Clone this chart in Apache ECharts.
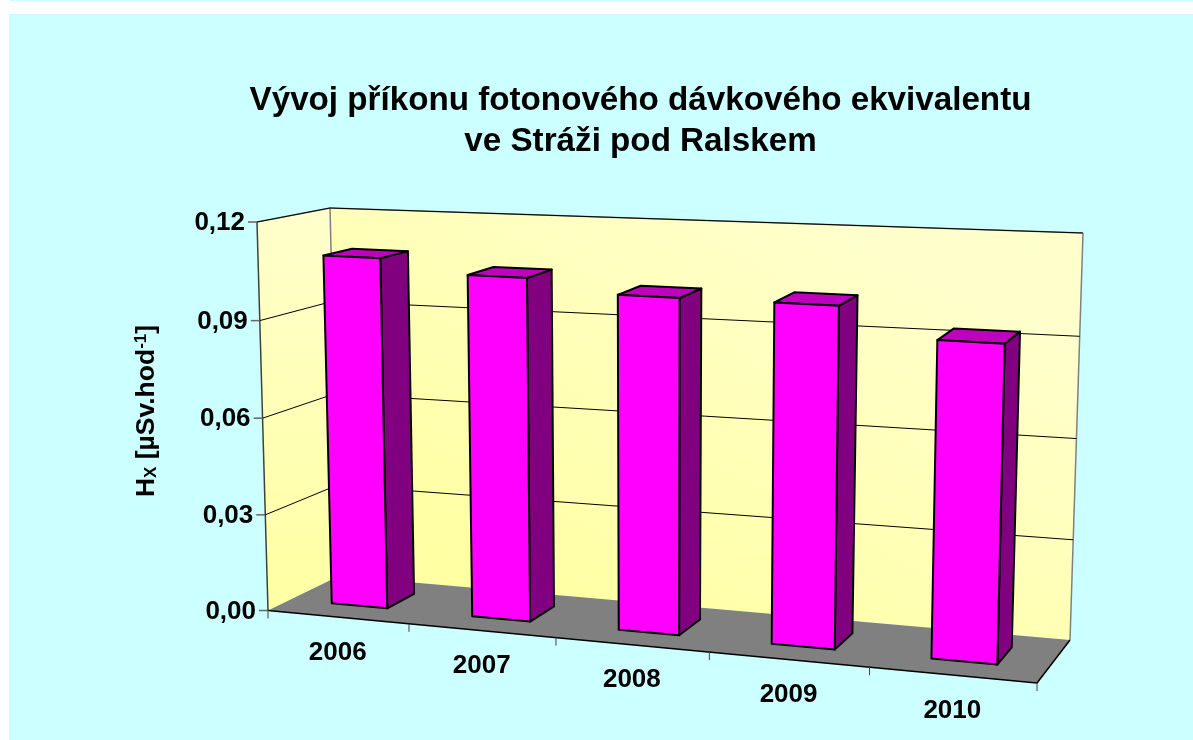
<!DOCTYPE html>
<html>
<head>
<meta charset="utf-8">
<title>Hx</title>
<script src="https://cdn.jsdelivr.net/npm/echarts@6/dist/echarts.min.js"></script>
<style>
html, body { margin: 0; padding: 0; background: #fff; }
#chart { width: 1193px; height: 740px; }
</style>
</head>
<body>
<div id="chart"></div>
<script>
var years = ['2006', '2007', '2008', '2009', '2010'];
var doseValues = [0.1089, 0.1051, 0.1014, 0.1015, 0.0931];
var yTickValues = [0, 0.03, 0.06, 0.09, 0.12];
var yTickLabels = ['0,00', '0,03', '0,06', '0,09', '0,12'];

var FontName = '"Liberation Sans", Arial, sans-serif';

// corners of the 3D box as drawn: f = front, b = back, l/r = left/right, 0/1 = floor/top
var box = {
	fl0: [268, 610.5], fr0: [1037, 683], bl0: [339, 576], br0: [1070, 640],
	fl1: [257, 222], fr1: [1047, 260], bl1: [330, 208], br1: [1083, 233]
};
var xWarp = 0.898;      // the category axis is foreshortened to the left
var yWarp = 0.98;       // and the value axis a little towards the bottom
// depth of the bars inside the box
var barFront = 0.32;
var barBack = 0.725;

function warp(k, a) {
	return k * a / (1 + (k - 1) * a);
}
function mix(a, b, k) {
	return [a[0] + (b[0] - a[0]) * k, a[1] + (b[1] - a[1]) * k];
}
// u across the categories, w into the depth, v up the value axis, all 0..1
function project(u, w, v) {
	var t = warp(xWarp, u);
	var floor = mix(mix(box.fl0, box.fr0, t), mix(box.bl0, box.br0, t), w);
	var top = mix(mix(box.fl1, box.fr1, t), mix(box.bl1, box.br1, t), w);
	return mix(floor, top, warp(yWarp, v));
}
// goes through the real scales of the hidden cartesian grid
function toUnit(params, api, x, y) {
	var pt = api.coord([x, y]);
	var rect = params.coordSys;
	return [(pt[0] - rect.x) / rect.width, (rect.y + rect.height - pt[1]) / rect.height];
}
function face(points, fill, stroke, lineWidth) {
	return {
		type: 'polygon',
		shape: { points: points },
		style: { fill: fill, stroke: stroke, lineWidth: lineWidth, lineJoin: 'round' }
	};
}
function segment(a, b, color, lineWidth) {
	return {
		type: 'line',
		shape: { x1: a[0], y1: a[1], x2: b[0], y2: b[1] },
		style: { stroke: color, lineWidth: lineWidth }
	};
}
function label(text, x, y, align) {
	return {
		type: 'text',
		style: {
			text: text, x: x, y: y, align: align, verticalAlign: 'middle',
			fontFamily: FontName, fontWeight: 'bold', fontSize: 26, fill: '#000'
		}
	};
}

function renderWalls(params, api) {
	var leftFill = new echarts.graphic.LinearGradient(0.6, 0, 0.4, 1, [
		{ offset: 0, color: '#FFFFCC' }, { offset: 1, color: '#FFFFA3' }
	]);
	var backFill = new echarts.graphic.LinearGradient(0.65, 0, 0.35, 1, [
		{ offset: 0, color: '#FFFFCC' }, { offset: 1, color: '#FFFFA3' }
	]);
	return {
		type: 'group',
		children: [
			face([box.fl0, box.fl1, box.bl1, box.bl0], leftFill),
			face([box.bl0, box.bl1, box.br1, box.br0], backFill),
			face([box.fl0, box.bl0, box.br0, box.fr0], '#808080'),
			segment(box.fl1, box.bl1, '#808080', 1.5),
			segment(box.bl1, box.br1, '#808080', 1.5),
			segment(box.br1, box.br0, '#808080', 1.5),
			segment(box.bl1, box.bl0, '#808080', 1.5),
			segment(box.fl0, box.fl1, '#404040', 1.5),
			segment(box.fl0, box.fr0, '#000', 1.5),
			segment(box.fr0, box.br0, '#000', 1.5)
		]
	};
}

function renderYTick(params, api) {
	var v = toUnit(params, api, 0, api.value(1))[1];
	var front = project(0, 0, v);
	var children = [
		segment([front[0] - 9, front[1]], front, '#666', 1.5),
		label(yTickLabels[params.dataIndex], front[0] - 12, front[1] + 1, 'right')
	];
	// the floor already has its own edges
	if (v > 0) {
		children.push(segment(front, project(0, 1, v), '#000', 1));
		children.push(segment(project(0, 1, v), project(1, 1, v), '#000', 1));
	}
	return { type: 'group', children: children };
}

function renderXTick(params, api) {
	var halfBand = api.size([1, 0])[0] / params.coordSys.width / 2;
	var u = toUnit(params, api, api.value(0), 0)[0];
	var left = project(u - halfBand, 0, 0);
	var mid = project(u, 0, 0);
	var children = [
		segment(left, [left[0], left[1] + 8], '#404040', 1),
		label(years[params.dataIndex], mid[0], mid[1] + 35.5, 'center')
	];
	if (params.dataIndex === years.length - 1) {
		var right = project(u + halfBand, 0, 0);
		children.push(segment(right, [right[0], right[1] + 8], '#404040', 1));
	}
	return { type: 'group', children: children };
}

function renderBar(params, api) {
	var unit = toUnit(params, api, api.value(0), api.value(1));
	var half = api.size([1, 0])[0] / params.coordSys.width * 0.2;
	var u0 = unit[0] - half, u1 = unit[0] + half, v = unit[1];
	var a0 = project(u0, barFront, 0), b0 = project(u1, barFront, 0), c0 = project(u1, barBack, 0);
	var a1 = project(u0, barFront, v), b1 = project(u1, barFront, v), c1 = project(u1, barBack, v);
	var d1 = project(u0, barBack, v);
	return {
		type: 'group',
		children: [
			face([b0, b1, c1, c0], '#800080', '#000', 2),
			face([a1, d1, c1, b1], '#BF00BF', '#000', 2),
			face([a0, a1, b1, b0], '#FF00FF', '#000', 2)
		]
	};
}

var option = {
	animation: false,
	backgroundColor: '#fff',
	graphic: [
		{ type: 'rect', z: -10, shape: { x: 9, y: 0, width: 1184, height: 1 }, style: { fill: '#CCFFFF' } },
		{ type: 'rect', z: -10, shape: { x: 9, y: 14, width: 1184, height: 726 }, style: { fill: '#CCFFFF' } }
	],
	title: {
		text: 'Vývoj příkonu fotonového dávkového ekvivalentu\nve Stráži pod Ralskem',
		left: 635.5,
		top: 75,
		textAlign: 'center',
		textStyle: { fontFamily: FontName, fontWeight: 'bold', fontSize: 33.2, lineHeight: 41, color: '#000' }
	},
	grid: { left: 257, top: 222, width: 780, height: 388 },
	xAxis: { type: 'category', data: years, show: false },
	yAxis: {
		type: 'value',
		min: 0,
		max: 0.12,
		interval: 0.03,
		axisLine: { show: false },
		axisTick: { show: false },
		axisLabel: { show: false },
		splitLine: { show: false },
		name: '{main|H}{sub|X}{main| [µSv.hod}{sup|-1}{main|]}',
		nameLocation: 'middle',
		nameRotate: 90,
		nameGap: 97,
		nameTextStyle: {
			padding: [0, 0, 0, 10],
			rich: {
				main: { fontFamily: FontName, fontWeight: 'bold', fontSize: 26.5, color: '#000' },
				sub: { fontFamily: FontName, fontWeight: 'bold', fontSize: 17, color: '#000', verticalAlign: 'bottom' },
				sup: { fontFamily: FontName, fontWeight: 'bold', fontSize: 17, color: '#000', verticalAlign: 'top' }
			}
		}
	},
	series: [
		{ type: 'custom', silent: true, renderItem: renderWalls, data: [[0, 0]] },
		{
			type: 'custom', silent: true, renderItem: renderYTick,
			data: yTickValues.map(function (val) { return [0, val]; })
		},
		{
			type: 'custom', silent: true, renderItem: renderXTick,
			data: years.map(function (year, i) { return [i, 0]; })
		},
		{
			type: 'custom', name: 'Hx', renderItem: renderBar,
			data: doseValues.map(function (val, i) { return [i, val]; })
		}
	]
};

var chart = echarts.init(document.getElementById('chart'));
chart.setOption(option);
</script>
</body>
</html>
